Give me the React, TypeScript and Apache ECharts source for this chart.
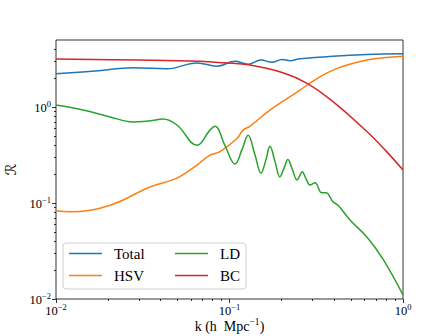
import { useEffect, useRef } from "react";
import * as echarts from "echarts";

// ---- data ----
const seriesNames = ["Total", "HSV", "LD", "BC"];
const seriesColors = ["#1f77b4", "#ff7f0e", "#2ca02c", "#d62728"];

const totalK = [0.01, 0.0168, 0.0278, 0.0436, 0.065, 0.0847, 0.1076, 0.128, 0.152, 0.176, 0.201, 0.223, 0.255, 0.395, 0.621, 1.0];
const totalR = [2.22, 2.38, 2.57, 2.51, 2.88, 2.67, 3.0, 2.8, 3.1, 2.93, 3.14, 3.04, 3.18, 3.39, 3.53, 3.59];

const hsvK = [0.01, 0.012, 0.0205, 0.0348, 0.0498, 0.065, 0.0772, 0.0881, 0.1105, 0.1196, 0.131, 0.171, 0.255, 0.291, 0.395, 0.621, 1.0];
const hsvR = [0.083, 0.081, 0.095, 0.147, 0.182, 0.249, 0.316, 0.343, 0.47, 0.575, 0.63, 0.93, 1.5, 1.78, 2.43, 3.09, 3.39];

const ldK = [0.01, 0.0143, 0.0205, 0.0278, 0.0348, 0.0414, 0.0498, 0.065, 0.0772, 0.0825, 0.094, 0.1076, 0.118, 0.128, 0.14, 0.152, 0.162, 0.171, 0.183, 0.195, 0.206, 0.217, 0.231, 0.245, 0.253, 0.262, 0.276, 0.291, 0.311, 0.34, 0.36, 0.395, 0.422, 0.495, 0.621, 0.767, 1.0];
const ldR = [1.05, 0.93, 0.79, 0.7, 0.72, 0.75, 0.65, 0.4, 0.575, 0.63, 0.4, 0.255, 0.36, 0.51, 0.32, 0.205, 0.28, 0.39, 0.27, 0.187, 0.23, 0.285, 0.22, 0.174, 0.19, 0.212, 0.18, 0.154, 0.163, 0.128, 0.128, 0.103, 0.095, 0.0666, 0.044, 0.026, 0.011];

const bcK = [0.01, 0.03, 0.0676, 0.093, 0.131, 0.203, 0.28, 0.395, 0.621, 0.79, 1.0];
const bcR = [3.16, 3.09, 3.0, 2.89, 2.74, 2.28, 1.77, 1.14, 0.553, 0.356, 0.221];

const xRange = [0.01, 1];
const yRange = [0.01, 5];
const xMajorExp = [-2, -1, 0];
const yMajorExp = [-2, -1, 0];

const xLabel = "k (h  Mpc";
const xLabelSup = "−1";
const yLabel = "ℛ";

function minorLogs(lo: number, hi: number): number[] {
  const out: number[] = [];
  for (let e = Math.floor(lo); e <= Math.ceil(hi); e++) {
    for (let m = 2; m <= 9; m++) {
      const v = e + Math.log10(m);
      if (v > lo + 1e-9 && v < hi - 1e-9) out.push(v);
    }
  }
  return out;
}

const SERIF = "Liberation Serif";

const richLabel = {
  b: { fontFamily: SERIF, fontSize: 12.5, color: "#000", lineHeight: 15, verticalAlign: "bottom" },
  s: { fontFamily: SERIF, fontSize: 8.5, color: "#000", lineHeight: 8, verticalAlign: "top" },
};

const powFormatter = (v: number) => {
  const r = Math.round(v);
  const e = r < 0 ? "−" + -r : String(r);
  return `{b|10}{s|${e}}`;
};

export default function App() {
  const ref = useRef<HTMLDivElement>(null);
  useEffect(() => {
    document.body.style.margin = "0";
    if (!ref.current) return;
    const chart = echarts.init(ref.current, undefined, { renderer: "svg" });

    const xl = Math.log10(xRange[0]);
    const xh = Math.log10(xRange[1]);
    const yl = Math.log10(yRange[0]);
    const yh = Math.log10(yRange[1]);

    const tickLine = { color: "#000", width: 0.8 };
    const noLine = { show: false, onZero: false };

    const data = [
      [totalK, totalR],
      [hsvK, hsvR],
      [ldK, ldR],
      [bcK, bcR],
    ];

    chart.setOption({
      animation: false,
      backgroundColor: "#fff",
      grid: {
        left: 56,
        right: 45,
        top: 40,
        bottom: 37,
        outerBoundsMode: "none",
        containLabel: false,
        show: true,
        borderColor: "#000",
        borderWidth: 0.8,
        backgroundColor: "transparent",
      },
      xAxis: [
        { type: "log", logBase: 10, min: xRange[0], max: xRange[1], show: false, axisLine: noLine },
        {
          type: "value",
          min: xl,
          max: xh,
          position: "bottom",
          axisLine: noLine,
          splitLine: { show: false },
          axisTick: { show: true, customValues: xMajorExp, length: 4, lineStyle: tickLine },
          axisLabel: { customValues: xMajorExp, formatter: powFormatter, rich: richLabel, margin: 3 },
          name: `{t|${xLabel}}{s|${xLabelSup}}{t|)}`,
          nameLocation: "middle",
          nameGap: 18,
          nameMoveOverlap: false,
          nameTextStyle: {
            verticalAlign: "top",
            rich: {
              t: { fontFamily: SERIF, fontSize: 14, color: "#000", lineHeight: 16, verticalAlign: "bottom" },
              s: { fontFamily: SERIF, fontSize: 9.5, color: "#000", lineHeight: 9, verticalAlign: "top" },
            },
          },
        },
        {
          type: "value",
          min: xl,
          max: xh,
          position: "bottom",
          axisLine: noLine,
          splitLine: { show: false },
          axisTick: { show: true, customValues: minorLogs(xl, xh), length: 2, lineStyle: tickLine },
          axisLabel: { show: false },
        },
      ],
      yAxis: [
        { type: "log", logBase: 10, min: yRange[0], max: yRange[1], show: false, axisLine: noLine },
        {
          type: "value",
          min: yl,
          max: yh,
          position: "left",
          axisLine: noLine,
          splitLine: { show: false },
          axisTick: { show: true, customValues: yMajorExp, length: 4, lineStyle: tickLine },
          axisLabel: { customValues: yMajorExp, formatter: powFormatter, rich: richLabel, margin: 5 },
          name: yLabel,
          nameLocation: "middle",
          nameGap: 37,
          nameRotate: 90,
          nameTextStyle: { fontFamily: "DejaVu Sans", fontSize: 15, color: "#000" },
        },
        {
          type: "value",
          min: yl,
          max: yh,
          position: "left",
          axisLine: noLine,
          splitLine: { show: false },
          axisTick: { show: true, customValues: minorLogs(yl, yh), length: 2, lineStyle: tickLine },
          axisLabel: { show: false },
        },
      ],
      legend: {
        left: 63,
        top: 243,
        width: 180,
        orient: "horizontal",
        icon: "rect",
        itemWidth: 33,
        itemHeight: 1.6,
        itemGap: 7,
        padding: [3, 6, 6, 6],
        backgroundColor: "rgba(255,255,255,0.8)",
        borderColor: "#d0d0d0",
        borderWidth: 1,
        borderRadius: 3,
        formatter: (name: string) =>
          name === seriesNames[0] || name === seriesNames[1] ? `{w|${name}}` : `{n|${name}}`,
        textStyle: {
          fontFamily: SERIF,
          fontSize: 15,
          color: "#000",
          rich: {
            w: { fontFamily: SERIF, fontSize: 15, color: "#000", width: 54, lineHeight: 18, padding: [0, 0, 0, 7] },
            n: { fontFamily: SERIF, fontSize: 15, color: "#000", lineHeight: 18, padding: [0, 0, 0, 7] },
          },
        },
        data: [seriesNames[0], seriesNames[2], seriesNames[1], seriesNames[3]],
      },
      series: seriesNames.map((name, i) => ({
        type: "line",
        name,
        xAxisIndex: 0,
        yAxisIndex: 0,
        data: data[i][0].map((k, j) => [k, data[i][1][j]]),
        symbol: "none",
        showSymbol: false,
        smooth: 0.4,
        color: seriesColors[i],
        lineStyle: { width: 1.5, color: seriesColors[i] },
        itemStyle: { color: seriesColors[i] },
      })),
    });
    return () => chart.dispose();
  }, []);
  return <div ref={ref} style={{ width: 448, height: 336 }} />;
}
